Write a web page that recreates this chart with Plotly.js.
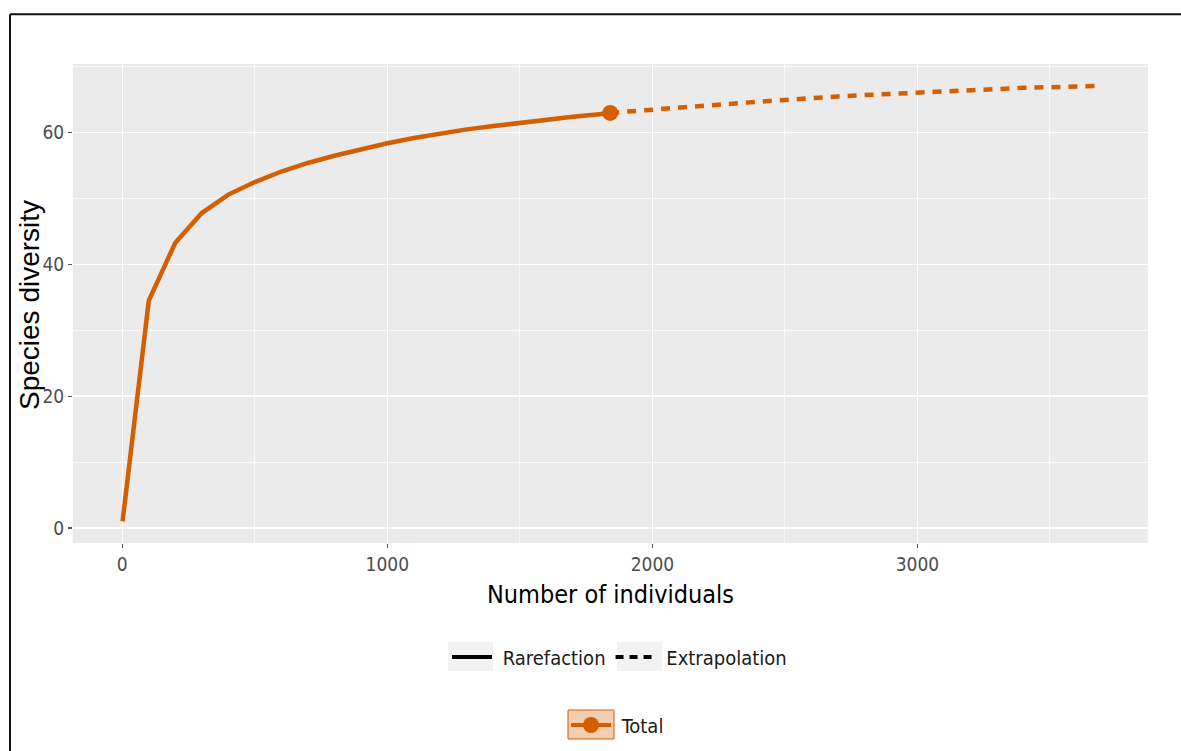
<!DOCTYPE html>
<html>
<head>
<meta charset="utf-8">
<script src="https://cdn.plot.ly/plotly-3.0.1.min.js"></script>
<style>
  html, body { margin: 0; padding: 0; background: #ffffff; }
  #chart { width: 1181px; height: 751px; }
</style>
</head>
<body>
<div id="chart"></div>
<script>
// ---- data ----
const rareX = [1, 100, 200, 300, 400, 500, 600, 700, 800, 900, 1000, 1100, 1200, 1300, 1400, 1500, 1600, 1700, 1800, 1841];
const rareY = [1.0, 34.5, 43.3, 47.8, 50.6, 52.5, 54.1, 55.4, 56.5, 57.5, 58.4, 59.2, 59.9, 60.5, 61.0, 61.5, 62.0, 62.4, 62.8, 63.0];
const extraX = [1841, 1900, 2000, 2100, 2200, 2300, 2400, 2500, 2600, 2700, 2800, 2900, 3000, 3100, 3200, 3300, 3400, 3500, 3600, 3690];
const extraY = [63.0, 63.2, 63.5, 63.8, 64.1, 64.4, 64.7, 65.0, 65.2, 65.5, 65.7, 65.9, 66.1, 66.3, 66.5, 66.6, 66.8, 66.9, 67.0, 67.1];
const observedX = [1841];
const observedY = [63.0];
const xTicks = [0, 1000, 2000, 3000];
const yTicks = [0, 20, 40, 60];
const methodNames = ["Rarefaction", "Extrapolation"];
const groupName = "Total";

const orange = "#D55E00";
const narrow = "'Liberation Sans Narrow', 'DejaVu Sans Condensed', 'Liberation Sans', Arial, sans-serif";
const regular = "'Liberation Sans', Arial, sans-serif";
const sp = "\u00A0";

const traces = [
  { x: rareX, y: rareY, type: "scatter", mode: "lines",
    line: { color: orange, width: 4.5 }, showlegend: false, hoverinfo: "x+y" },
  { x: extraX, y: extraY, type: "scatter", mode: "lines",
    line: { color: orange, width: 4.5, dash: "9px,8px" }, showlegend: false, hoverinfo: "x+y" },
  { x: [null], y: [null], type: "scatter", mode: "lines", name: sp + methodNames[0],
    line: { color: "#000000", width: 4 }, legend: "legend" },
  { x: [null], y: [null], type: "scatter", mode: "lines", name: sp + methodNames[1],
    line: { color: "#000000", width: 4, dash: "8px,6px" }, legend: "legend" },
  { x: observedX, y: observedY, type: "scatter", mode: "lines+markers", name: sp + groupName,
    line: { color: orange, width: 4 }, marker: { color: orange, size: 16, symbol: "circle" },
    legend: "legend2" }
];

const L = 73, R = 33, T = 64, B = 208;
const W = 1181, H = 751;
const pw = W - L - R, ph = H - T - B;
const px = v => (v - L) / pw;
const py = v => (H - B - v) / ph;

const keyRect = (x0, x1, y0, y1, fill, line) => ({
  type: "rect", xref: "paper", yref: "paper", layer: "above",
  x0: px(x0), x1: px(x1), y0: py(y1), y1: py(y0),
  fillcolor: fill, line: line
});

const layout = {
  width: W, height: H,
  margin: { l: L, r: R, t: T, b: B, pad: 0, autoexpand: false },
  paper_bgcolor: "#ffffff",
  plot_bgcolor: "#EBEBEB",
  showlegend: true,
  xaxis: {
    range: [-186, 3870], automargin: false,
    tickvals: xTicks, ticktext: xTicks.map(String),
    showgrid: true, gridcolor: "#ffffff", gridwidth: 1.6,
    minor: { dtick: 500, tick0: 500, showgrid: true, gridcolor: "#ffffff", gridwidth: 0.7, ticklen: 0 },
    zeroline: false, showline: false,
    ticks: "outside", ticklen: 4, tickwidth: 1.2, tickcolor: "#555555",
    tickfont: { family: narrow, size: 19, color: "#4D4D4D" },
    title: { text: "Number of individuals", font: { family: narrow, size: 25, color: "#000000" }, standoff: 11 }
  },
  yaxis: {
    range: [-2.28, 70.42], automargin: false,
    tickvals: yTicks, ticktext: yTicks.map(String),
    showgrid: true, gridcolor: "#ffffff", gridwidth: 1.6,
    minor: { dtick: 10, tick0: 10, showgrid: true, gridcolor: "#ffffff", gridwidth: 0.7, ticklen: 0 },
    zeroline: false, showline: false,
    ticks: "outside", ticklen: 4, tickwidth: 1.2, tickcolor: "#555555",
    tickfont: { family: narrow, size: 19, color: "#4D4D4D" }
  },
  annotations: [
    { text: "Species diversity", xref: "paper", yref: "paper", x: px(29), y: py(305),
      xanchor: "center", yanchor: "middle", textangle: -90, showarrow: false,
      font: { family: regular, size: 28, color: "#000000" } }
  ],
  legend: {
    orientation: "h", x: px(447), xanchor: "left", y: py(657), yanchor: "middle",
    font: { family: narrow, size: 20, color: "#1a1a1a" }, bgcolor: "rgba(0,0,0,0)",
    itemwidth: 40, traceorder: "normal"
  },
  legend2: {
    orientation: "h", x: px(566), xanchor: "left", y: py(725), yanchor: "middle",
    font: { family: narrow, size: 20, color: "#1a1a1a" }, bgcolor: "rgba(0,0,0,0)",
    itemwidth: 40
  },
  shapes: [
    { type: "line", xref: "paper", yref: "paper", x0: px(10), x1: px(1185), y0: py(14.3), y1: py(14.3),
      line: { color: "#111111", width: 2 } },
    { type: "line", xref: "paper", yref: "paper", x0: px(10), x1: px(10), y0: py(14.3), y1: py(755),
      line: { color: "#111111", width: 2 } },
    keyRect(448, 493, 642, 671, "#F2F2F2", { width: 0 }),
    keyRect(617, 662, 642, 671, "#F2F2F2", { width: 0 }),
    keyRect(568, 614, 710, 739, "rgba(213,94,0,0.3)", { color: orange, width: 1 })
  ]
};

Plotly.newPlot("chart", traces, layout, { displayModeBar: false, staticPlot: true });
</script>
</body>
</html>
